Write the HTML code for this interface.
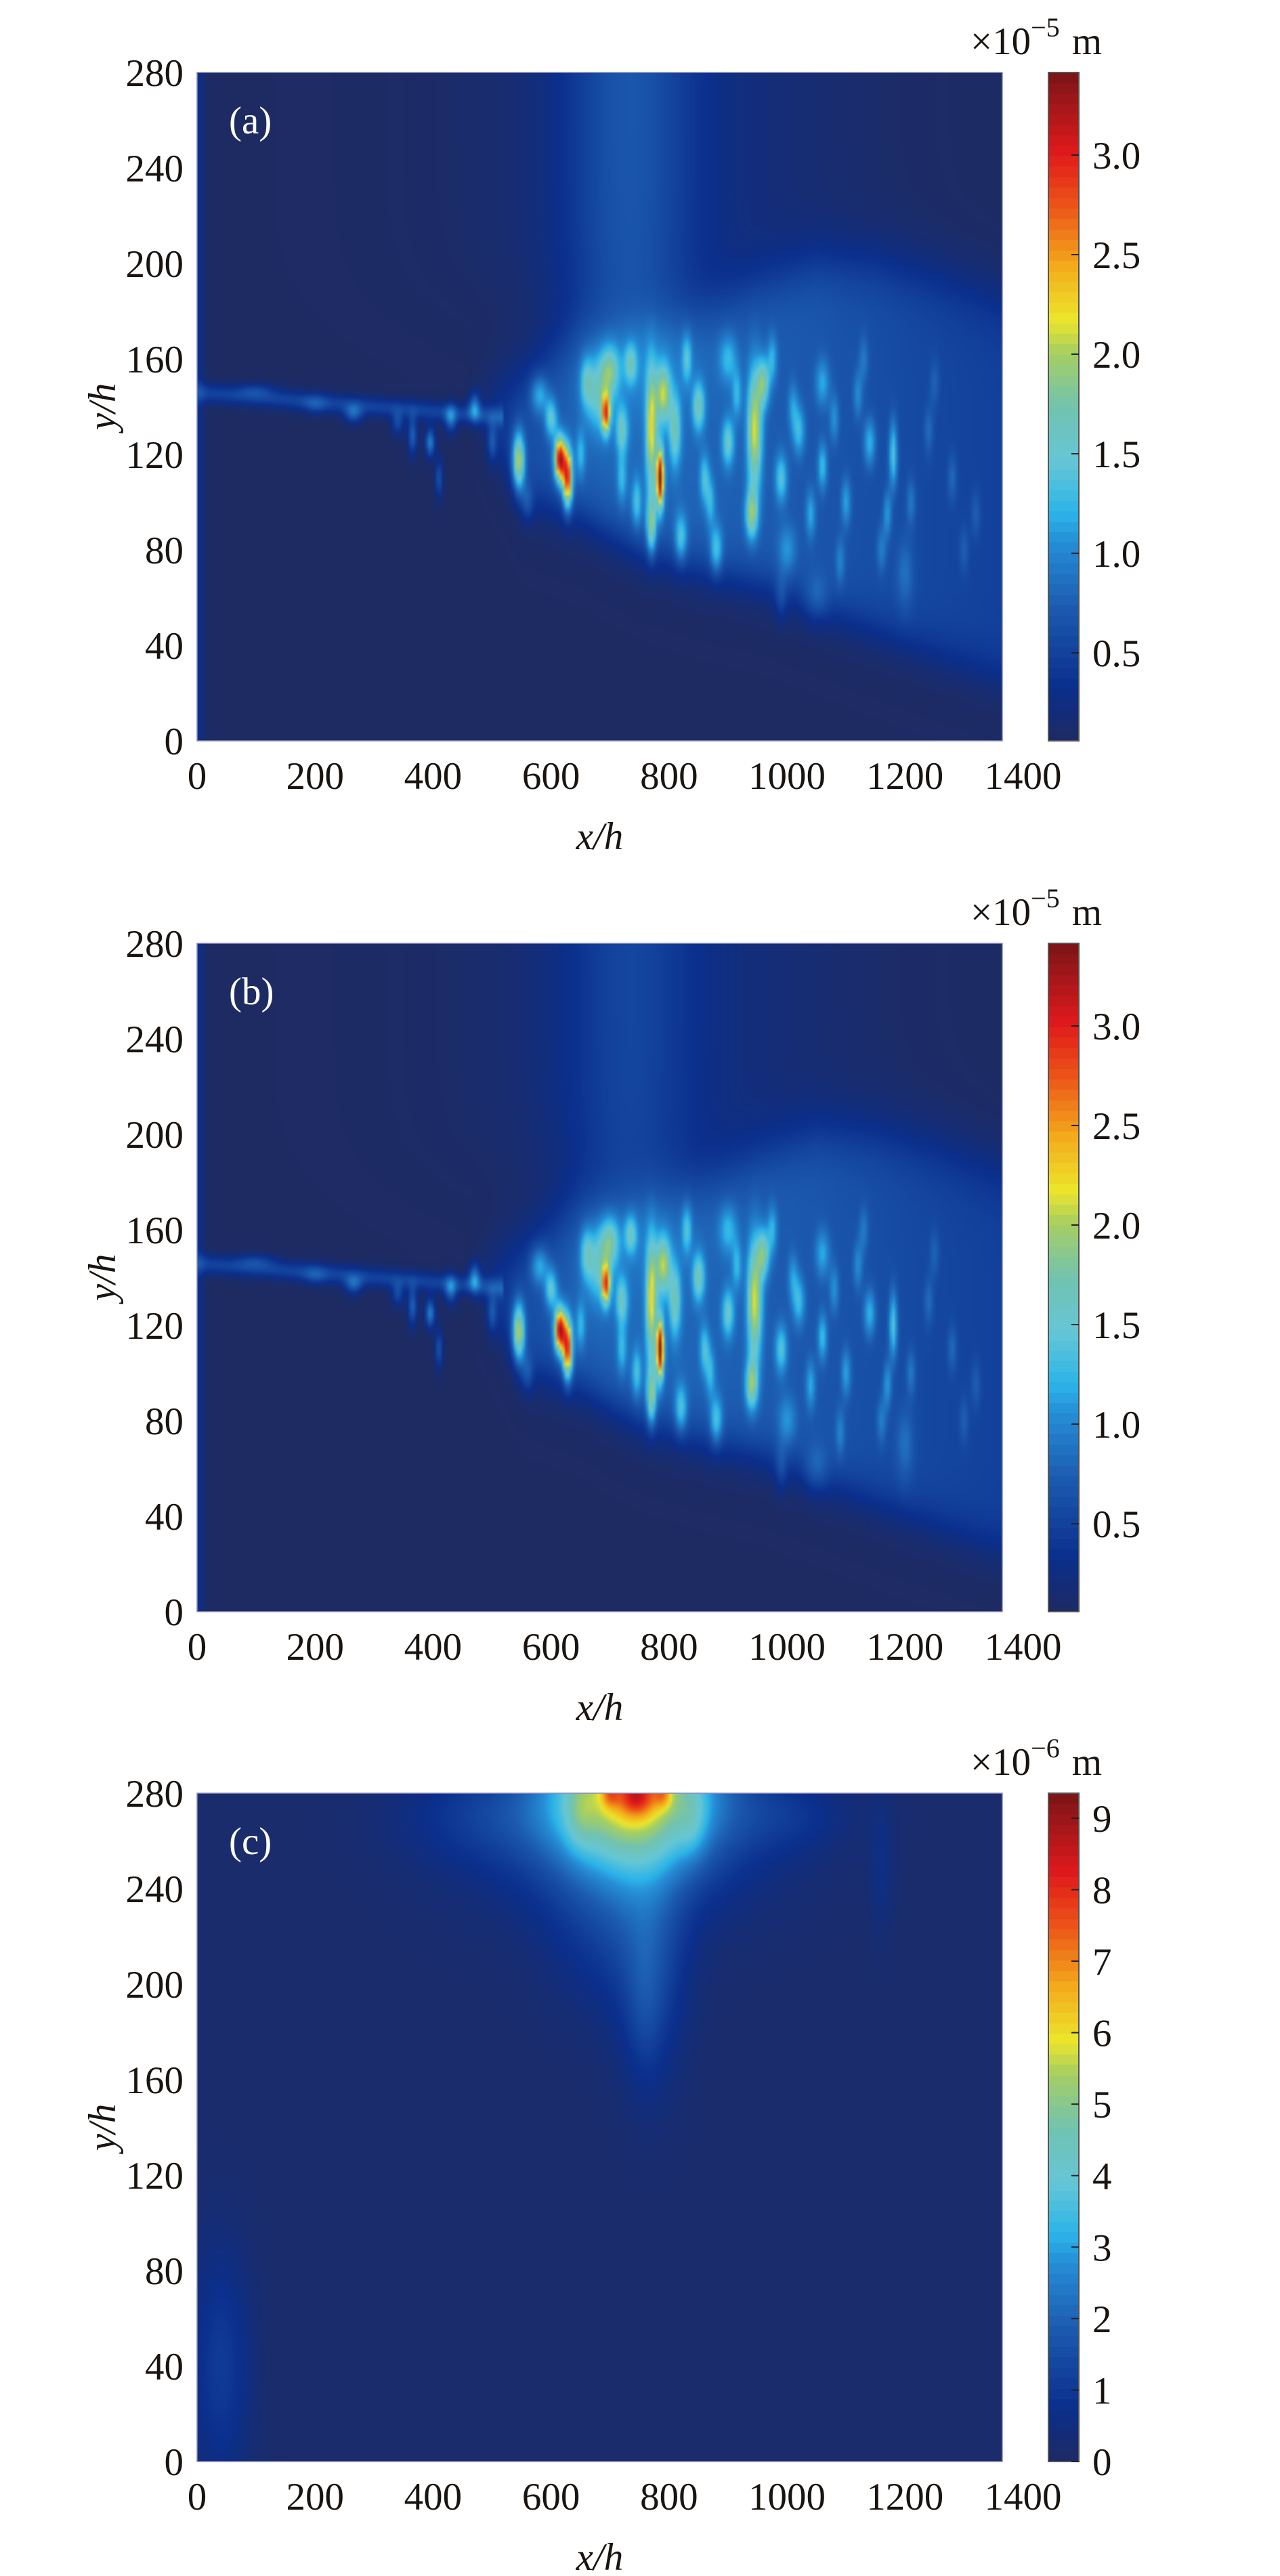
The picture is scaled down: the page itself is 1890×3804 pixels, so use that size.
<!DOCTYPE html>
<html><head><meta charset="utf-8"><title>Displacement fields</title>
<style>
html,body{margin:0;padding:0;background:#fff;}
#root{position:relative;width:1890px;height:3804px;overflow:hidden;background:#fff;}
canvas{position:absolute;}
svg{position:absolute;left:0;top:0;}
text{font-family:"Liberation Serif",serif;fill:#1a1410;}
</style></head>
<body>
<div id="root">
<canvas id="cva" width="1189" height="987" style="left:291px;top:107px"></canvas>
<canvas id="cvb" width="1189" height="987" style="left:291px;top:1393px"></canvas>
<canvas id="cvc" width="1189" height="987" style="left:291px;top:2648px"></canvas>
<canvas id="cba" width="45" height="987" style="left:1548px;top:107px"></canvas>
<canvas id="cbb" width="45" height="987" style="left:1548px;top:1393px"></canvas>
<canvas id="cbc" width="45" height="987" style="left:1548px;top:2648px"></canvas>
<svg id="ov" width="1890" height="3804"></svg>
</div>
<script>
// ---------- data ----------
const xTicks=[0,200,400,600,800,1000,1200,1400];
const yTicks=[0,40,80,120,160,200,240,280];
const cbTicksAB=[0.5,1.0,1.5,2.0,2.5,3.0];
const cbLabelsAB=["0.5","1.0","1.5","2.0","2.5","3.0"];
const cbTicksC=[0,1,2,3,4,5,6,7,8,9];
const cbRangeAB=[0.058,3.415];
const cbRangeC=[0,9.35];
// plume envelope (panels a,b)
const plumeX=[480,550,650,750,850,950,1050,1150,1250,1370];
const plumeLow=[130,102,94,80,72,66,56,46,36,25];
const plumeHigh=[145,152,168,172,178,190,200,200,195,185];
const plumeLevel=[0.3,0.55,0.7,0.75,0.72,0.68,0.62,0.55,0.48,0.42];
// blobs panel a/b: x, y, amplitude, sx, sy
const blobX=[100,200,265,340,365,395,410,430,470,500,545,560,615,628,600,580,680,693,700,720,770,785,770,790,810,850,860,900,945,940,960,990,1020,1060,1100,1140,1180,1170,1200,880,820,1000,1060,900,1050,
  660,735,745,830,870,915,975,1010,1040,1080,1120,1160,1210,1240,1280,1300,720,650,1090,990,1130,1250,1320];
const blobY=[147,141,137,133,128,125,110,135,140,125,117,100,118,110,135,145,145,137,155,130,130,110,90,145,130,140,110,125,130,95,150,110,130,115,100,125,120,95,70,80,85,80,150,160,60,
  150,158,100,160,100,145,160,140,95,135,145,80,100,130,110,80,110,120,75,60,160,150,95];
const blobAmp=[0.3,0.3,0.6,0.5,0.7,0.9,0.6,0.7,0.8,0.5,1.5,0.4,2.5,2.2,0.8,0.6,0.7,1.8,0.8,0.8,1.4,2.6,1.1,1.2,0.9,0.9,0.6,0.8,1.4,1.1,1.0,0.7,0.6,0.6,0.5,0.6,0.8,0.5,0.3,0.7,0.7,0.4,0.5,0.5,0.3,
  0.6,0.7,0.6,0.6,0.5,0.5,0.5,0.4,0.5,0.4,0.4,0.35,0.35,0.3,0.3,0.25,0.5,0.5,0.35,0.3,0.3,0.25,0.25];
const blobSx=[30,20,15,10,8,8,6,10,10,8,10,10,9,8,10,15,20,7,15,10,9,6,8,12,10,10,8,10,12,10,10,10,10,8,8,10,7,7,15,10,10,15,12,15,20,
  10,10,8,8,8,8,8,8,8,8,8,8,8,8,8,8,8,8,8,10,8,8,8];
const blobSy=[3,4,4,5,8,6,8,6,6,8,12,8,9,12,8,8,15,8,10,10,25,12,12,12,15,10,10,10,25,10,10,10,10,10,10,10,14,10,15,10,10,10,10,10,10,
  10,8,10,10,10,10,10,10,10,10,10,10,10,10,10,10,10,10,10,10,10,10,10];
const columnAmp=[0.45,0.3];
// blobs panel c
const cX=[740,745,700,790,720,770,700,500,1000,1160,40,650,840,760];
const cY=[282,279,280,280,270,210,230,270,270,250,40,272,268,190];
const cAmp=[4.8,2.3,1.5,1.5,1.2,1.0,0.8,0.6,0.5,0.4,0.9,0.8,0.8,0.5];
const cSx=[135,30,15,15,250,60,100,150,100,20,50,25,25,30];
const cSy=[32,8,6,6,40,50,40,20,15,30,50,15,15,30];

// ---------- geometry ----------
const L=291,R=1480,H=987,XMAX=1365,YMAX=280;
const tops=[107,1393,2648];
const xs=v=>L+v*(R-L)/XMAX;
const ysf=top=>v=>top+H-v*H/YMAX;
const sq=z=>z*z;

const stops=[[0,"#1e2b63"],[0.08,"#0b2f8d"],[0.2,"#1c5bb0"],[0.3,"#2690d8"],[0.34,"#2bb4e8"],[0.42,"#66c7d6"],[0.5,"#72c3b0"],[0.58,"#a6cf62"],[0.63,"#ece62c"],[0.71,"#f4ac1c"],[0.8,"#ec5518"],[0.88,"#e11a1c"],[1,"#7a1518"]];
const stopRGB=stops.map(s=>[s[0],parseInt(s[1].slice(1,3),16),parseInt(s[1].slice(3,5),16),parseInt(s[1].slice(5,7),16)]);
function cmap(f){f=Math.max(0,Math.min(1,f));for(let i=1;i<stopRGB.length;i++){if(f<=stopRGB[i][0]){const a=stopRGB[i-1],b=stopRGB[i],t=(f-a[0])/(b[0]-a[0]);return [a[1]+(b[1]-a[1])*t,a[2]+(b[2]-a[2])*t,a[3]+(b[3]-a[3])*t];}}return stopRGB[stopRGB.length-1].slice(1);}
const sig=z=>1/(1+Math.exp(-z));
function interp(arr,x){if(x<=plumeX[0])return arr[0];for(let i=1;i<plumeX.length;i++){if(x<=plumeX[i]){const t=(x-plumeX[i-1])/(plumeX[i]-plumeX[i-1]);return arr[i-1]+(arr[i]-arr[i-1])*t;}}return arr[arr.length-1];}

function fieldAB(x,y,k){
  let v=0.06;
  v+=0.25*Math.exp(-sq(x/12));
  if(x<520) v+=0.45*Math.exp(-sq((y-(146-x*0.02))/4));
  if(x>=470){const lo=interp(plumeLow,x),hi=interp(plumeHigh,x),lv=interp(plumeLevel,x);
    v+=lv*sig((y-lo)/6)*sig((hi-y)/8)*sig((x-480)/15);}
  v+=columnAmp[k]*Math.exp(-sq((x-730)/110))*sig((y-150)/10);
  v+=0.18*Math.exp(-sq((x-800)/300))*sig((y-185)/12);
  for(let i=0;i<blobX.length;i++){v+=blobAmp[i]*Math.exp(-sq((x-blobX[i])/blobSx[i])-sq((y-blobY[i])/blobSy[i]));}
  return v;
}
function fieldC(x,y){
  let v=0.15;
  for(let i=0;i<cX.length;i++){v+=cAmp[i]*Math.exp(-sq((x-cX[i])/cSx[i])-sq((y-cY[i])/cSy[i]));}
  return v;
}
function drawHeat(id,fn,range){
  const cv=document.getElementById(id),ctx=cv.getContext('2d');
  const gw=300,gh=250,off=document.createElement('canvas');off.width=gw;off.height=gh;
  const oc=off.getContext('2d'),img=oc.createImageData(gw,gh);
  for(let j=0;j<gh;j++)for(let i=0;i<gw;i++){
    const x=(i+0.5)/gw*XMAX,y=YMAX-(j+0.5)/gh*YMAX;
    const v=fn(x,y);const c=cmap((v-range[0])/(range[1]-range[0]));
    const p=(j*gw+i)*4;img.data[p]=c[0];img.data[p+1]=c[1];img.data[p+2]=c[2];img.data[p+3]=255;}
  oc.putImageData(img,0,0);ctx.imageSmoothingEnabled=true;ctx.drawImage(off,0,0,cv.width,cv.height);
}
function drawBar(id){
  const cv=document.getElementById(id),ctx=cv.getContext('2d');const n=64;
  for(let k=0;k<n;k++){const c=cmap((k+0.5)/n);ctx.fillStyle=`rgb(${c[0]|0},${c[1]|0},${c[2]|0})`;
    const y0=Math.floor(H-(k+1)*H/n),y1=Math.ceil(H-k*H/n);ctx.fillRect(0,y0,45,y1-y0);}
}
drawHeat('cva',(x,y)=>fieldAB(x,y,0),cbRangeAB);
drawHeat('cvb',(x,y)=>fieldAB(x,y,1),cbRangeAB);
drawHeat('cvc',fieldC,cbRangeC);
drawBar('cba');drawBar('cbb');drawBar('cbc');

// ---------- overlay ----------
const NS="http://www.w3.org/2000/svg",ov=document.getElementById('ov');
function el(tag,attrs,txt){const e=document.createElementNS(NS,tag);for(const k in attrs)e.setAttribute(k,attrs[k]);if(txt!==undefined)e.textContent=txt;ov.appendChild(e);return e;}
const panelNames=["a","b","c"];
tops.forEach((top,pi)=>{
  const ys=ysf(top),bottom=top+H,pn=panelNames[pi];
  const fr=el('rect',{x:L,y:top,width:R-L,height:H,fill:'none',stroke:'#8a8ab8','stroke-width':1.5});
  
  
  xTicks.forEach(t=>{const e=el('text',{x:xs(t),y:bottom+71,'font-size':57,'text-anchor':'middle'},String(t));
    
    });
  yTicks.forEach(t=>{const e=el('text',{x:271,y:ys(t)+20,'font-size':57,'text-anchor':'end'},String(t));
    
    });
  const xl=el('text',{x:(L+R)/2,y:bottom+160,'font-size':57,'text-anchor':'middle','font-style':'italic'},'x/h');
  
  
  const yl=el('text',{x:0,y:0,'font-size':57,'text-anchor':'middle','font-style':'italic',transform:`translate(170,${top+H/2}) rotate(-90)`},'y/h');
  
  
  const pl=el('text',{x:338,y:top+90,'font-size':57,style:'fill:#fff'},'('+pn+')');
  
  
  const cbr=el('rect',{x:1548,y:top,width:45,height:H,fill:'none',stroke:'#555','stroke-width':2});
  
  
  const rng=pi<2?cbRangeAB:cbRangeC,ticks=pi<2?cbTicksAB:cbTicksC;
  const cy=v=>bottom-(v-rng[0])/(rng[1]-rng[0])*H;
  ticks.forEach((t,i)=>{const yy=cy(t);
    const tk=el('line',{x1:1582,x2:1593,y1:yy,y2:yy,stroke:'#222','stroke-width':2});
    
    
    const lab=pi<2?cbLabelsAB[i]:String(t);
    const tl=el('text',{x:1613,y:Math.min(yy+20,bottom+20),'font-size':57},lab);
    
    });
  const u=el('text',{x:1433,y:top-27,'font-size':57});
  
  
  const t1=document.createElementNS(NS,'tspan');t1.textContent='×10';u.appendChild(t1);
  const t2=document.createElementNS(NS,'tspan');t2.setAttribute('dy','-26');t2.setAttribute('font-size','40');t2.textContent='−'+(pi<2?'5':'6');u.appendChild(t2);
  const t3=document.createElementNS(NS,'tspan');t3.setAttribute('dy','26');t3.setAttribute('dx','18');t3.textContent='m';u.appendChild(t3);
});
</script>
</body></html>
